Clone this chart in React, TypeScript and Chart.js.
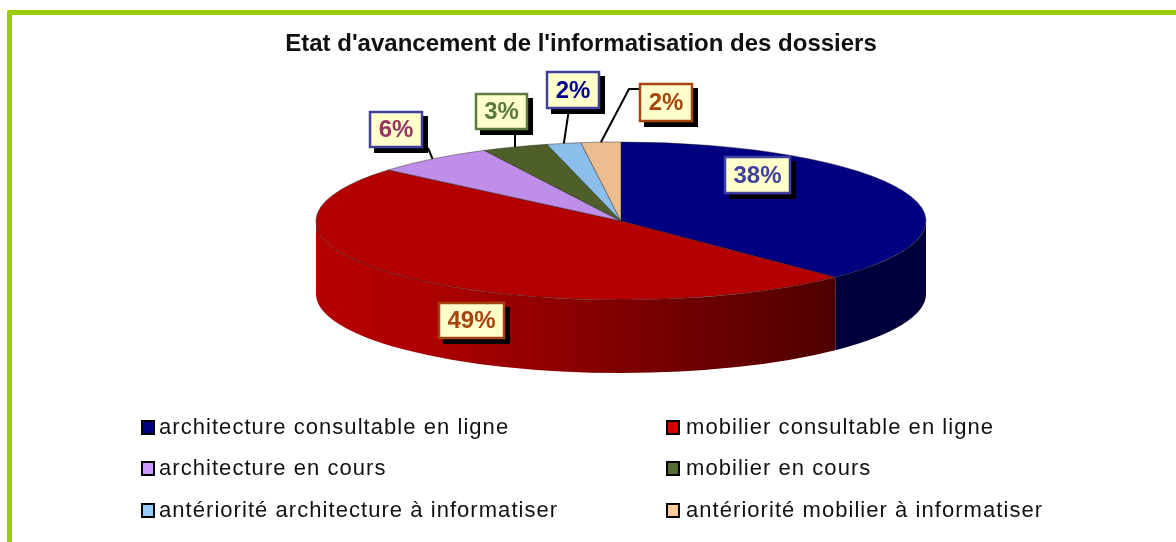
import React, { useEffect, useRef } from "react";
import { Chart, registerables } from "chart.js";

Chart.register(...registerables);

const titleText = "Etat d'avancement de l'informatisation des dossiers";
const categories = [
  "architecture consultable en ligne",
  "mobilier consultable en ligne",
  "architecture en cours",
  "mobilier en cours",
  "antériorité architecture à informatiser",
  "antériorité mobilier à informatiser",
];
// slice sizes (the printed percentages are rounded)
const values = [37.6, 48.6, 6.4, 3.5, 1.8, 2.1];
const valueLabels = ["38%", "49%", "6%", "3%", "2%", "2%"];

const topColors = ["#000080", "#b40000", "#be8ee8", "#4f5f2a", "#8cbeec", "#ebbd91"];
const legendColors = ["#000080", "#cc0000", "#cc99ff", "#556b2f", "#99ccff", "#ffcc99"];
const labelText = ["#4040a0", "#a5440f", "#993366", "#5b7a40", "#000090", "#a5440f"];
const labelBorder = ["#4040a0", "#a5440f", "#4040a0", "#5b7a40", "#4040a0", "#a5440f"];
const wallBlue = "#00003a";

// layout only
const PIE = { cx: 621, cy: 221, rx: 305, ry: 79, depth: 73 };
const BOXES = [
  { x: 724, y: 156, w: 67, h: 38 },
  { x: 438, y: 302, w: 67, h: 37 },
  { x: 369, y: 111, w: 54, h: 37 },
  { x: 475, y: 93, w: 53, h: 37 },
  { x: 546, y: 71, w: 54, h: 38 },
  { x: 639, y: 83, w: 54, h: 39 },
];
// leader line: start point on the label, optional elbow; null = no leader
const LEADERS: (number[][] | null)[] = [
  null,
  null,
  [[428, 148]],
  [[515, 130]],
  [[569, 109]],
  [[639, 89], [629, 89]],
];
const LEGEND_COLS = [141, 666];
const LEGEND_ROWS = [427, 468, 510];
const FONT = '"Liberation Sans", Arial, sans-serif';

const pie3d = {
  id: "pie3d",
  beforeDatasetDraw(chart: any) {
    const { ctx } = chart;
    const arcs = chart.getDatasetMeta(0).data;
    const { cx, cy, rx, ry, depth } = PIE;
    const k = ry / rx;
    arcs.forEach((arc: any, i: number) => {
      const a = Math.max(arc.startAngle, 0);
      const b = Math.min(arc.endAngle, Math.PI);
      if (b <= a) return;
      ctx.save();
      ctx.beginPath();
      ctx.ellipse(cx, cy, rx, ry, 0, a, b);
      ctx.ellipse(cx, cy + depth, rx, ry, 0, b, a, true);
      ctx.closePath();
      if (i === 1) {
        const g = ctx.createLinearGradient(cx - rx, 0, cx + 214, 0);
        g.addColorStop(0, "#b40000");
        g.addColorStop(0.2, "#b00000");
        g.addColorStop(0.55, "#840000");
        g.addColorStop(1, "#4e0000");
        ctx.fillStyle = g;
      } else {
        ctx.fillStyle = wallBlue;
      }
      ctx.fill();
      ctx.restore();
    });
    const first = arcs[0];
    ctx.save();
    ctx.translate(cx, cy);
    ctx.scale(1, k);
    ctx.translate(-first.x, -first.y);
  },
  afterDatasetDraw(chart: any) {
    chart.ctx.restore();
  },
  afterDatasetsDraw(chart: any) {
    const { ctx } = chart;
    const arcs = chart.getDatasetMeta(0).data;
    const { cx, cy, rx, ry } = PIE;
    // leaders
    ctx.save();
    ctx.strokeStyle = "#000";
    ctx.lineWidth = 2;
    arcs.forEach((arc: any, i: number) => {
      const pts = LEADERS[i];
      if (!pts) return;
      const mid = (arc.startAngle + arc.endAngle) / 2;
      ctx.beginPath();
      pts.forEach((p, j) => (j ? ctx.lineTo(p[0], p[1]) : ctx.moveTo(p[0], p[1])));
      ctx.lineTo(cx + rx * Math.cos(mid), cy + ry * Math.sin(mid));
      ctx.stroke();
    });
    ctx.restore();
    // value labels
    BOXES.forEach((b, i) => {
      ctx.save();
      ctx.fillStyle = "#000";
      ctx.fillRect(b.x + 5, b.y + 5, b.w, b.h);
      ctx.fillStyle = "#ffffcc";
      ctx.fillRect(b.x, b.y, b.w, b.h);
      ctx.strokeStyle = labelBorder[i];
      ctx.lineWidth = 2.5;
      ctx.strokeRect(b.x + 1, b.y + 1, b.w - 2, b.h - 2);
      ctx.fillStyle = labelText[i];
      ctx.font = `bold 24px ${FONT}`;
      ctx.textAlign = "center";
      ctx.textBaseline = "middle";
      ctx.fillText(valueLabels[i], b.x + b.w / 2, b.y + b.h / 2 + 1);
      ctx.restore();
    });
    // legend
    categories.forEach((label, i) => {
      const x = LEGEND_COLS[i % 2];
      const y = LEGEND_ROWS[Math.floor(i / 2)];
      ctx.save();
      ctx.fillStyle = legendColors[i];
      ctx.fillRect(x, y - 7, 14, 15);
      ctx.strokeStyle = "#000";
      ctx.lineWidth = 2;
      ctx.strokeRect(x + 1, y - 6, 12, 13);
      ctx.fillStyle = "#111";
      ctx.font = `22px ${FONT}`;
      (ctx as any).letterSpacing = "1.05px";
      ctx.textAlign = "left";
      ctx.textBaseline = "middle";
      ctx.fillText(label, x + (i % 2 ? 20 : 18), y + 1);
      ctx.restore();
    });
  },
};

export default function App() {
  const ref = useRef<HTMLCanvasElement>(null);
  useEffect(() => {
    const chart = new Chart(ref.current as HTMLCanvasElement, {
      type: "pie",
      data: {
        labels: categories,
        datasets: [
          {
            data: values,
            backgroundColor: topColors,
            borderColor: "rgba(30,30,30,0.7)",
            borderWidth: 1,
            radius: PIE.rx,
            clip: false,
          } as any,
        ],
      },
      options: {
        responsive: false,
        animation: false,
        plugins: {
          legend: { display: false },
          tooltip: { enabled: false },
          title: {
            display: true,
            text: titleText,
            color: "#111",
            font: { family: FONT, size: 24, weight: "bold" },
            padding: { top: 30, bottom: 0 },
          },
        },
      },
      plugins: [pie3d],
    } as any);
    return () => chart.destroy();
  }, []);
  return (
    <div style={{ position: "fixed", inset: 0, background: "#fff", overflow: "hidden" }}>
      <div
        style={{
          position: "absolute",
          left: 7,
          top: 10,
          right: 0,
          bottom: 0,
          borderLeft: "5px solid #99cc00",
          borderTop: "5px solid #99cc00",
          borderTopLeftRadius: 3,
        }}
      />
      <canvas
        ref={ref}
        width={1162}
        height={542}
        style={{ position: "absolute", left: 0, top: 0, display: "block" }}
      />
    </div>
  );
}
